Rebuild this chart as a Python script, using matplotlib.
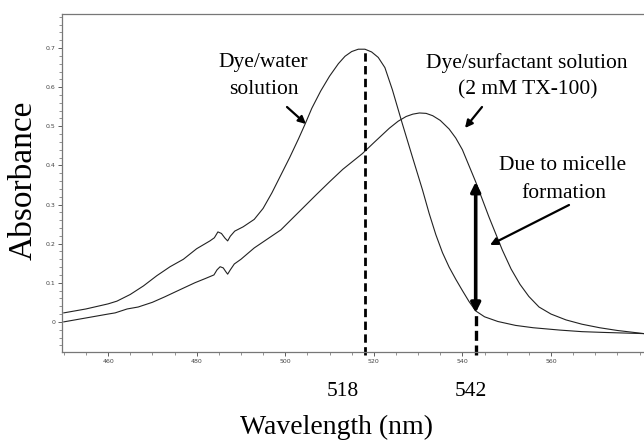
import matplotlib

matplotlib.use("Agg")
import matplotlib.pyplot as plt
from matplotlib.ticker import MultipleLocator

# Dye in water
water_nm = [450, 455, 460, 462, 465, 468, 471, 474, 477, 480, 483, 484, 484.8,
            485.6, 486.4, 487.0, 487.6, 488.6, 490.5, 493, 495, 497, 499, 501,
            503, 504.5, 506, 508, 510, 512, 513.5, 515, 516.5, 518, 519.5, 521,
            522.5, 524.2, 526.4, 528.7, 531, 532.5, 534, 535.5, 537, 538.5,
            540, 541.5, 543, 545, 548, 552, 556, 562, 567, 572, 581]
water_abs = [0.023, 0.033, 0.046, 0.053, 0.070, 0.092, 0.118, 0.141, 0.160,
             0.187, 0.207, 0.215, 0.230, 0.226, 0.214, 0.207, 0.219, 0.232,
             0.243, 0.262, 0.290, 0.330, 0.375, 0.420, 0.468, 0.506, 0.546,
             0.590, 0.628, 0.660, 0.679, 0.691, 0.697, 0.697, 0.690, 0.676,
             0.650, 0.593, 0.508, 0.422, 0.337, 0.277, 0.223, 0.177, 0.140,
             0.109, 0.080, 0.052, 0.028, 0.013, 0.001, -0.009, -0.015, -0.021,
             -0.025, -0.027, -0.030]

# Dye with 2 mM TX-100
surf_nm = [450, 455, 460, 461.6, 464.3, 466.8, 470, 472.8, 476, 479.6, 482,
           483.9, 484.6, 485.3, 486, 486.6, 487, 487.6, 488.5, 490, 493, 496,
           499, 503, 507, 510, 513, 517.4, 520, 523.5, 525.5, 527.3, 528.8,
           530.3, 531.8, 533.3, 535, 537, 538.5, 540, 543, 546, 549, 551, 553,
           555, 557.3, 560, 563.4, 567, 571, 575, 581]
surf_abs = [0.000, 0.010, 0.020, 0.023, 0.033, 0.038, 0.050, 0.064, 0.081,
            0.100, 0.111, 0.120, 0.133, 0.141, 0.138, 0.128, 0.122, 0.133,
            0.148, 0.160, 0.189, 0.212, 0.235, 0.280, 0.325, 0.358, 0.390,
            0.430, 0.458, 0.495, 0.513, 0.525, 0.531, 0.534, 0.533, 0.527,
            0.515, 0.493, 0.470, 0.440, 0.358, 0.268, 0.184, 0.135, 0.096,
            0.065, 0.038, 0.020, 0.005, -0.006, -0.015, -0.022, -0.030]

peak_water = (518, 0.697)
micelle_x = 543
micelle_low, micelle_high = 0.023, 0.358
x_ticks = [460, 480, 500, 520, 540, 560]
y_ticks = [0, 0.1, 0.2, 0.3, 0.4, 0.5, 0.6, 0.7]

serif = "Liberation Serif"

fig = plt.figure(figsize=(6.44, 4.45), dpi=100)
ax = fig.add_axes([62 / 644, 1 - 352 / 445, 1 - 62 / 644, (352 - 14) / 445])

ax.plot(water_nm, water_abs, color="#222222", linewidth=0.8)
ax.plot(surf_nm, surf_abs, color="#222222", linewidth=0.8)

ax.plot([peak_water[0], peak_water[0]], [-0.085, peak_water[1]], color="black",
        linewidth=2.0, linestyle=(0, (3, 1.6)), clip_on=False)
ax.plot([micelle_x, micelle_x], [-0.085, micelle_low], color="black",
        linewidth=2.4, linestyle=(0, (3, 1.4)), clip_on=False)
ax.annotate("", xy=(micelle_x, micelle_high), xytext=(micelle_x, micelle_low),
            arrowprops=dict(arrowstyle="<|-|>", color="black", lw=2.6,
                            mutation_scale=14, shrinkA=0, shrinkB=0))

ax.set_xlim(449.6, 581)
ax.set_ylim(-0.077, 0.787)
ax.set_xticks(x_ticks)
ax.set_yticks(y_ticks)
ax.set_yticklabels(["0", "0.1", "0.2", "0.3", "0.4", "0.5", "0.6", "0.7"])
ax.xaxis.set_minor_locator(MultipleLocator(5))
ax.yaxis.set_minor_locator(MultipleLocator(0.02))
ax.tick_params(which="major", labelsize=4.5, length=3, width=0.6,
               colors="#444444", pad=2)
ax.tick_params(which="minor", length=2, width=0.5, colors="#666666")
for side in ["left", "bottom", "top"]:
    ax.spines[side].set_color("#777777")
    ax.spines[side].set_linewidth(0.9)
ax.spines["right"].set_visible(False)

fig.text(343 / 644, 1 - 392 / 445, "518", family=serif, fontsize=15.5,
         ha="center", va="center")
fig.text(471 / 644, 1 - 392 / 445, "542", family=serif, fontsize=15.5,
         ha="center", va="center")
fig.text(337 / 644, 1 - 427 / 445, "Wavelength (nm)", family=serif,
         fontsize=20, ha="center", va="center")
fig.text(23 / 644, 1 - 180 / 445, "Absorbance", family=serif, fontsize=24,
         rotation=90, ha="center", va="center")

fig.text(263 / 644, 1 - 63 / 445, "Dye/water", family=serif, fontsize=15.5,
         ha="center", va="center")
fig.text(264 / 644, 1 - 90 / 445, "solution", family=serif, fontsize=15.5,
         ha="center", va="center")
fig.text(527 / 644, 1 - 63 / 445, "Dye/surfactant solution", family=serif,
         fontsize=15.5, ha="center", va="center")
fig.text(528 / 644, 1 - 90 / 445, "(2 mM TX-100)", family=serif,
         fontsize=15.5, ha="center", va="center")
fig.text(563 / 644, 1 - 165 / 445, "Due to micelle", family=serif,
         fontsize=15.5, ha="center", va="center")
fig.text(564 / 644, 1 - 193 / 445, "formation", family=serif, fontsize=15.5,
         ha="center", va="center")

arrow_style = dict(arrowstyle="-|>", color="black", lw=1.6, mutation_scale=11,
                   shrinkA=0, shrinkB=0)
for (x0, y0), (x1, y1) in [((287, 107), (306, 124)),
                           ((482, 107), (465, 128)),
                           ((569, 205), (490, 245))]:
    fig.add_artist(matplotlib.patches.FancyArrowPatch(
        (x0 / 644, 1 - y0 / 445), (x1 / 644, 1 - y1 / 445),
        transform=fig.transFigure, **arrow_style))

fig.savefig("out.png", dpi=100)
